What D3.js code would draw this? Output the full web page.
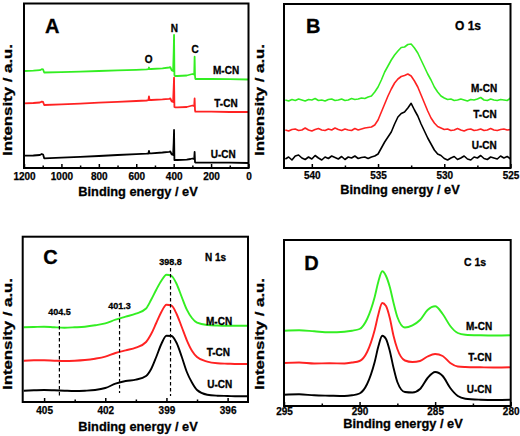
<!DOCTYPE html>
<html><head><meta charset="utf-8">
<script src="https://cdn.jsdelivr.net/npm/d3@7"></script>
<style>
body{margin:0;background:#fff}
svg{display:block}
</style>
</head><body>
<svg id="chart" width="520" height="436"></svg>
<script>
// ---------- data ----------
const seriesNames = ["M-CN", "T-CN", "U-CN"];
const seriesColors = ["#33ee22", "#ff2222", "#000000"];

// Panel A: survey spectrum
const surveyEnergy = [1200,1150,1115,1105,1098,1092,1000,900,800,700,600,545,535,532,529,520,460,425,418,410,403,400,398,396,393,380,330,310,300,292,290,288,286,284,280,200,100,0];
const surveyM = [97,97.3,97.8,98.8,98.5,95.5,95.8,96.4,97,97.6,98.2,98.6,98.8,100.5,98.9,99,99.6,100.5,100.8,97.5,97,115,133,93,92,92,92.5,93.5,94,93.5,95,111.3,92,89,89,89,88.8,88.5];
const surveyT = [64.7,65,65.5,66.3,66,63,63.6,64.4,65.3,66.2,67,67.5,67.8,71.5,67.9,68,68.6,69.2,69.5,66.5,66,80,90.3,61,60.7,60.7,61,62,62.5,62,63,69.5,58,56.3,56.3,56.3,56,56];
const surveyU = [12.3,12.5,13,14,13.5,9.7,10.3,11.2,12,13,13.8,14.3,14.5,17,14.6,14.7,15.5,16.2,16.5,13.5,13,25,38,8,8,8,8.3,9,9.5,9,10,16,6,5.3,5.3,5.3,5.3,5];
const surveyMajor = [1200,1000,800,600,400,200,0];
const surveyMinor = [1100,900,700,500,300,100];
const surveyPeakNames = ["O", "N", "C"];

// Panel B: O 1s
const o1sEnergy = d3.range(542, 524.99, -0.25);
const o1sM = [68,67,68.5,67.5,69,68,67,68.5,68,69.5,
  67.5,68,67,68.5,69,67.5,68,69,67.5,68,
  69.5,68.5,69,70,69.5,71,72,76,81,88,
  96,102,108,113,117,120.5,121,123.5,124,120,
  115,108,101,94,88,81,76,72,70,68.5,
  69,67.5,68,69,68,67,68.5,68,69,70.5,
  68,67.5,69,68,67.5,68.5,68,67.5,70];
const o1sT = [38,37,38.5,39,37.5,38,40,38,37,38.5,
  39.5,38,37.5,39,38,40,38.5,37.5,39,38,
  37.5,39.5,38,39,40,40.5,41,43,48,56,
  64,72,79,85,89,91.5,92.5,94,92,87,
  81,73,65,57,50,45,41.5,40,38.5,39,
  37.5,38,39.5,38,37,38.5,39,37.5,38,39,
  37.5,38,39.5,38,37.5,38.5,39,38,38.5];
const o1sU = [9,11,8,12,13,10,8.5,11,9,12.5,
  10,8,11,9.5,12,10.5,9,11.5,8.5,11,
  10,12,9.5,10.5,11,9.5,11,12,14,20,
  26,31,36,44,51,54.5,56,60,64.7,58,
  52,44,37,30,24,18,14,12.5,9.5,8,
  10,11.5,8.5,10,12,9,8,11,10,12.5,
  9.5,8.5,11,10,9,12,10,11.5,9];
const o1sMajor = [540,535,530,525];
const o1sMinor = [537.5,532.5,527.5];

// Panel C: N 1s
const n1sEnergy = [406,405.5,405,404.5,404,403.5,403,402.5,402,401.5,401,400.5,400,399.75,399.5,399.25,399,398.75,398.5,398.25,398,397.75,397.5,397,396.5,396,395.5,395];
const n1sM = [74.7,75,75.3,74.7,74.3,74.7,75.3,76.7,78.7,82.3,85.3,88.3,93.5,102.3,112.3,121.3,127.3,126,118,105,92.3,84,79.3,77,76.5,76.3,76.3,76.3];
const n1sT = [41.3,41.7,41.7,41.3,41,41.3,42,43.3,45.3,49,51.7,54.3,60,68,79,90,97.3,96.3,88,75,61.7,51.3,45,40.3,38.7,38.3,38,38];
const n1sU = [11.3,11.7,12,11.7,11.3,11,11.3,12,14,18.3,21,22.3,26,33,45,58,66.3,66,59,45.3,30,19.5,12,7.3,6.3,6,5.7,5.7];
const n1sMajor = [405,402,399,396];
const n1sMinor = [403.5,400.5,397.5];
const n1sPeakLabels = ["404.5", "401.3", "398.8"];
const n1sPeakPos = [404.25, 401.3, 398.8];

// Panel D: C 1s
const c1sEnergy = [295,294,293,292,291,290.5,290,289.5,289,288.75,288.5,288.25,288,287.75,287.5,287,286.5,286,285.5,285,284.5,284,283.5,283,282,281,280];
const c1sM = [75.3,75.7,74.7,73.7,74.3,75.3,77,87,109,124.7,134.7,130,119,103,89,78.5,80.7,86,96,99.7,92,80,73,71.3,70.7,70.5,70.7];
const c1sT = [43,43.5,42.5,42.7,42.5,43.5,45,54,76,92,103,100,88,70,57,45.5,44,45,49.5,52,50,43,39.5,39,38.7,38.5,38.7];
const c1sU = [11.3,11.7,10.7,10.3,10,10.7,12.5,22,44,60,70.3,67,55,38,24,14,13.5,17,28,34,30,18,10,7.3,6.3,6,6.3];
const c1sMajor = [295,290,285,280];
const c1sMinor = [292.5,287.5,282.5];

// ---------- drawing ----------
const FONT = '"Liberation Sans", Arial, Helvetica, sans-serif';
const svg = d3.select("#chart");
const defs = svg.append("defs");

function txt(x, y, s, size, anchor) {
  return svg.append("text").attr("x", x).attr("y", y)
    .attr("font-family", FONT).attr("font-weight", "bold")
    .attr("font-size", size).attr("text-anchor", anchor || "start")
    .attr("fill", "#000").attr("stroke", "#000").attr("stroke-width", 0.3)
    .text(s);
}

function drawPanel(p) {
  const x = d3.scaleLinear().domain(p.xDomain).range([p.left, p.right]);
  const y = d3.scaleLinear().domain([0, p.bottom - p.top]).range([p.bottom, p.top]);
  defs.append("clipPath").attr("id", p.id).append("rect")
    .attr("x", p.left).attr("y", p.top).attr("width", p.right - p.left).attr("height", p.bottom - p.top);
  const g = svg.append("g");
  p.series.forEach((vals, i) => {
    const line = d3.line().x((d, j) => x(p.energy[j])).y(d => y(d)).curve(p.curve);
    g.append("path").attr("d", line(vals)).attr("fill", "none")
      .attr("stroke", seriesColors[i]).attr("stroke-width", p.lw)
      .attr("stroke-linejoin", "round").attr("clip-path", `url(#${p.id})`);
  });
  const fs = 10;
  const ax = d3.axisBottom(x).tickValues(p.major).tickSize(-4)
    .tickPadding(p.tickBase - p.bottom - 0.71 * fs).tickFormat(d3.format("d"));
  const axG = g.append("g").attr("transform", `translate(0,${p.bottom})`).call(ax);
  axG.select(".domain").remove();
  axG.selectAll("text").attr("font-family", FONT).attr("font-size", fs)
    .attr("font-weight", "bold").attr("fill", "#000")
    .attr("stroke", "#000").attr("stroke-width", 0.25);
  axG.selectAll("line").attr("stroke", "#000").attr("stroke-width", 1.5);
  const axm = d3.axisBottom(x).tickValues(p.minor).tickSize(-2.5).tickFormat("");
  const amG = g.append("g").attr("transform", `translate(0,${p.bottom})`).call(axm);
  amG.select(".domain").remove();
  amG.selectAll("line").attr("stroke", "#000").attr("stroke-width", 1.5);
  g.append("rect").attr("x", p.left).attr("y", p.top)
    .attr("width", p.right - p.left).attr("height", p.bottom - p.top)
    .attr("fill", "none").attr("stroke", "#000").attr("stroke-width", 2);
  // axis titles
  txt(p.xTitleX, p.xTitleY, "Binding energy / eV", 12.8, "middle");
  svg.append("text").attr("transform", `translate(${p.yTitleX},${p.yTitleY}) rotate(-90)`)
    .attr("font-family", FONT).attr("font-weight", "bold").attr("font-size", 13)
    .attr("fill", "#000").attr("stroke", "#000").attr("stroke-width", 0.3)
    .attr("text-anchor", "middle").attr("textLength", 112).attr("lengthAdjust", "spacingAndGlyphs")
    .text("Intensity / a.u.");
  // panel letter
  txt(p.letterX, p.letterY, p.letter, 20);
  // series labels
  seriesNames.forEach((n, i) => txt(p.labX[i], p.labY[i], n, 10));
  return {x, y};
}

// Panel A
const A = drawPanel({
  id: "clipA", left: 24, right: 248.5, top: 3.5, bottom: 168,
  xDomain: [1200, 0], energy: surveyEnergy, series: [surveyM, surveyT, surveyU],
  curve: d3.curveLinear, lw: 1.8, major: surveyMajor, minor: surveyMinor, tickBase: 179.5,
  xTitleX: 138, xTitleY: 196, yTitleX: 12, yTitleY: 100,
  letter: "A", letterX: 45, letterY: 33,
  labX: [213, 214.3, 210.7], labY: [74, 107.3, 157.7]
});
const peakLabelPos = [[148.7, 63.3], [174.3, 31.7], [195, 53.3]];
surveyPeakNames.forEach((s, i) => txt(peakLabelPos[i][0], peakLabelPos[i][1], s, 10, "middle"));

// Panel B
drawPanel({
  id: "clipB", left: 284, right: 510.5, top: 4, bottom: 168,
  xDomain: [542.1, 525], energy: o1sEnergy, series: [o1sM, o1sT, o1sU],
  curve: d3.curveLinear, lw: 1.6, major: o1sMajor, minor: o1sMinor, tickBase: 179,
  xTitleX: 400, xTitleY: 194, yTitleX: 264, yTitleY: 100,
  letter: "B", letterX: 306, letterY: 32.5,
  labX: [471, 473.3, 471.7], labY: [91.7, 118.3, 149]
});
txt(455, 30, "O 1s", 12);

// Panel C
const C = drawPanel({
  id: "clipC", left: 22.7, right: 248, top: 236.7, bottom: 402,
  xDomain: [406.05, 395], energy: n1sEnergy, series: [n1sM, n1sT, n1sU],
  curve: d3.curveMonotoneX, lw: 1.9, major: n1sMajor, minor: n1sMinor, tickBase: 413.5,
  xTitleX: 138, xTitleY: 431, yTitleX: 12, yTitleY: 334,
  letter: "C", letterX: 43.3, letterY: 263.7,
  labX: [206, 206.7, 207.3], labY: [325.3, 356.3, 388]
});
txt(205, 260.5, "N 1s", 10);
const dashTop = [320, 313, 268];
const dashBot = [398, 393, 396];
const labBase = [315.3, 308.7, 264.7];
n1sPeakLabels.forEach((s, i) => {
  const xx = C.x(n1sPeakPos[i]);
  svg.append("line").attr("x1", xx).attr("x2", xx).attr("y1", dashTop[i]).attr("y2", dashBot[i])
    .attr("stroke", "#000").attr("stroke-width", 1.2).attr("stroke-dasharray", "3.5,2.5");
  txt(xx, labBase[i], s, 9, "middle");
});

// Panel D
drawPanel({
  id: "clipD", left: 284, right: 510.7, top: 240, bottom: 406,
  xDomain: [295, 280], energy: c1sEnergy, series: [c1sM, c1sT, c1sU],
  curve: d3.curveMonotoneX, lw: 1.9, major: c1sMajor, minor: c1sMinor, tickBase: 414.7,
  xTitleX: 403, xTitleY: 427.5, yTitleX: 264, yTitleY: 334,
  letter: "D", letterX: 304.3, letterY: 269.7,
  labX: [466, 468.3, 466.7], labY: [329.7, 361.3, 393]
});
txt(464, 266.3, "C 1s", 10.5);
</script>
</body></html>
